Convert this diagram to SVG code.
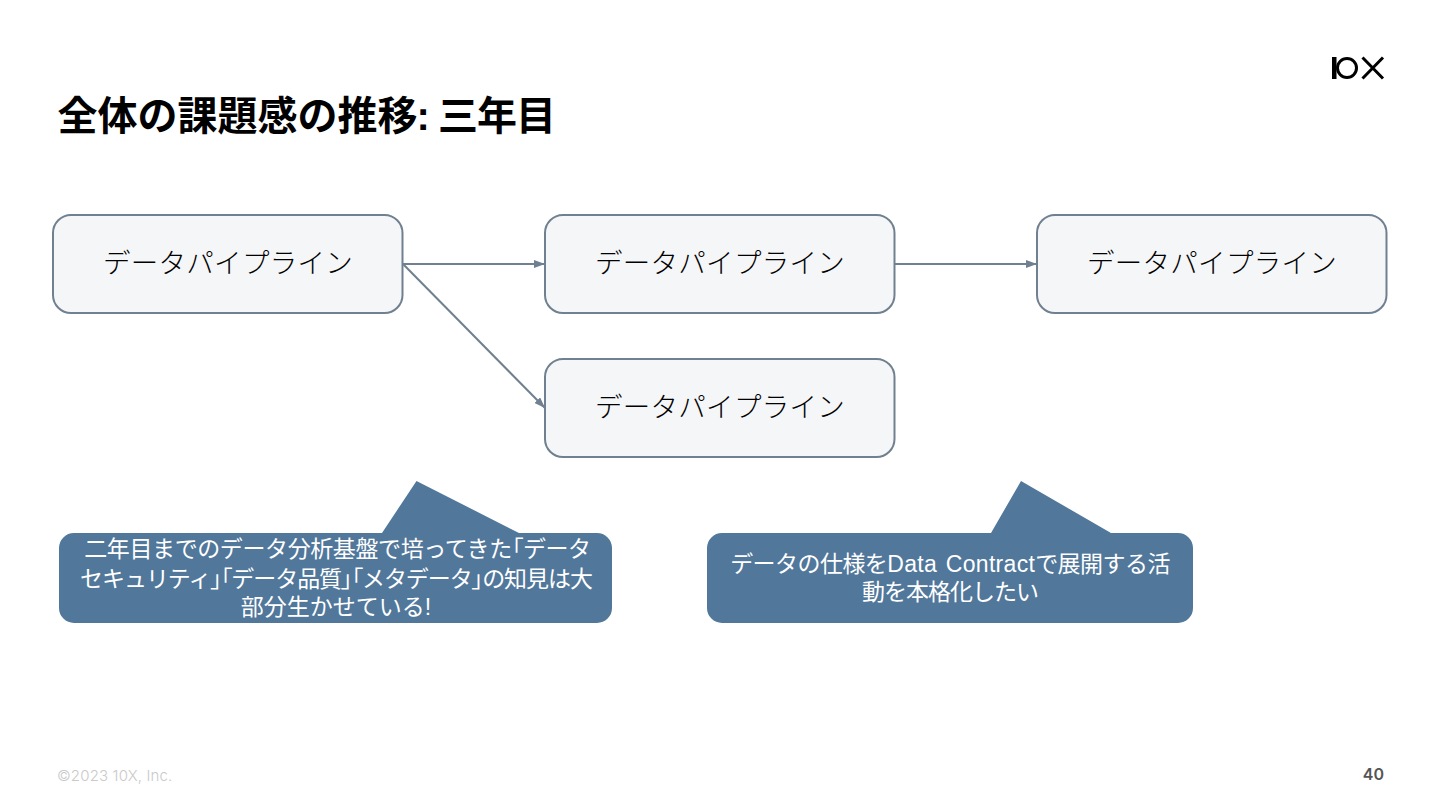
<svg xmlns="http://www.w3.org/2000/svg" width="1440" height="810" viewBox="0 0 1440 810">
<style>
text{font-family:"Liberation Sans","Noto Sans CJK JP",sans-serif}
.title{font-size:40px;font-weight:700;fill:#000}
.node rect{fill:#f5f6f8;stroke:#708090;stroke-width:2}
.node text{font-size:27.500px;font-weight:300;letter-spacing:.3px;fill:#000;text-anchor:middle}
.edge{stroke:#708090;stroke-width:2;fill:none;marker-end:url(#arrow)}
.call path{fill:#51779b}
.call text{font-size:23px;fill:#fff;text-anchor:middle;letter-spacing:-.7px}
.br{font-feature-settings:"palt"}
.foot{font-family:Inter,sans-serif}
</style>
<defs><marker id="arrow" markerUnits="userSpaceOnUse" markerWidth="11" markerHeight="8" refX="11" refY="4" orient="auto"><path d="M0 0L11 4L0 8Z" fill="#708090"/></marker></defs>
<rect width="1440" height="810" fill="#fff"/>
<text class="title" x="57.500" y="130">全体の課題感の推移<tspan dx="-1">:</tspan> <tspan dx="-3" letter-spacing="-1">三年目</tspan></text>
<g id="logo"><rect x="1332" y="57" width="4.500" height="22" fill="#000"/><circle cx="1347" cy="68" r="9.500" fill="none" stroke="#000" stroke-width="3"/><path d="M1362.500 57.500L1383 78.500M1383 57.500L1362.500 78.500" stroke="#000" stroke-width="3" fill="none"/></g>
<g id="connectors">
<path class="edge" d="M403 264H545"/>
<path class="edge" d="M895 264H1037"/>
<path class="edge" d="M403 264L545 408"/>
</g>
<g id="node1" class="node"><rect x="53" y="215" width="349.500" height="98" rx="18"/><text x="228" y="273">データパイプライン</text></g>
<g id="node2" class="node"><rect x="545" y="215" width="349.500" height="98" rx="18"/><text x="720" y="273">データパイプライン</text></g>
<g id="node3" class="node"><rect x="1037" y="215" width="349.500" height="98" rx="18"/><text x="1212" y="273">データパイプライン</text></g>
<g id="node4" class="node"><rect x="545" y="359" width="349.500" height="98" rx="18"/><text x="720" y="417">データパイプライン</text></g>
<g id="callout1" class="call"><path d="M74 533H382L416.500 481L519 533H597A15 15 0 0 1 612 548V608A15 15 0 0 1 597 623H74A15 15 0 0 1 59 608V548A15 15 0 0 1 74 533Z"/>
<text x="337.500" y="557" style="letter-spacing:-.4px">二年目までのデータ分析基盤で培ってきた<tspan class="br">「</tspan>データ</text>
<text x="336" y="587" style="letter-spacing:-1.05px">セキュリティ<tspan class="br">」「</tspan>データ品質<tspan class="br">」「</tspan>メタデータ<tspan class="br">」</tspan>の知見は大</text>
<text x="336" y="615" style="letter-spacing:0">部分生かせている!</text></g>
<g id="callout2" class="call"><path d="M722 533H991L1021 481L1111 533H1178A15 15 0 0 1 1193 548V608A15 15 0 0 1 1178 623H722A15 15 0 0 1 707 608V548A15 15 0 0 1 722 533Z"/>
<text x="950" y="572" style="letter-spacing:-.55px">データの仕様を<tspan letter-spacing=".3" word-spacing="2">Data Contract</tspan>で展開する活</text>
<text x="950" y="600" style="letter-spacing:-1px">動を本格化したい</text></g>
<text class="foot" x="57" y="781" font-size="15" font-weight="300" letter-spacing=".15" fill="#c9c9c9">©2023 10X, Inc.</text>
<text class="foot" x="1384" y="780" font-size="16" font-weight="600" fill="#555" text-anchor="end">40</text>
</svg>
